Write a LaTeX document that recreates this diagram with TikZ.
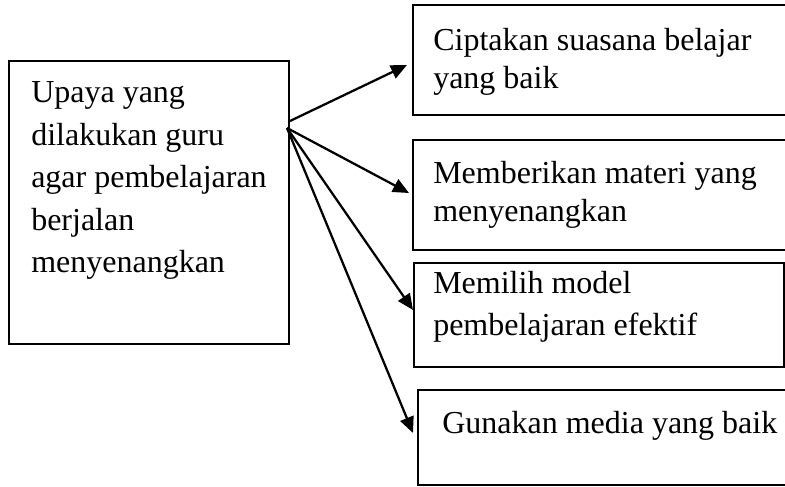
\documentclass[tikz,border=0pt]{standalone}
\usepackage{fontspec}
\setmainfont{Liberation Serif}
\usetikzlibrary{arrows.meta,fit}
\begin{document}
\begin{tikzpicture}[x=0.75pt,y=-0.75pt,
  boxstyle/.style={draw=black,line width=1.9pt,inner sep=0pt,fit={#1}},
  txt/.style={anchor=base west,inner sep=0pt,font=\fontsize{24pt}{28pt}\selectfont},
  arr/.style={line width=1.7pt,-{Triangle[length=12pt,width=10.5pt]}}]
\useasboundingbox (0,0) rectangle (785,486);
% boxes
\node[boxstyle={(9,61)(289,344)}] (L) {};
\node[boxstyle={(413,5)(800,115)}] (b1) {};
\node[boxstyle={(413,140)(800,250)}] (b2) {};
\node[boxstyle={(414,263)(784,367)},line width=1.5pt] (b3) {};
\node[boxstyle={(418,390)(800,485)}] (b4) {};
% texts
\node[txt] (l1) at (31,102) {Upaya yang};
\node[txt] (l2) at (31,145) {dilakukan guru};
\node[txt] (l3) at (31,187) {agar pembelajaran};
\node[txt] (l4) at (31,230) {berjalan};
\node[txt] (l5) at (31,272) {menyenangkan};
\node[txt] (t1a) at (433,50) {Ciptakan suasana belajar};
\node[txt] (t1b) at (433,88) {yang baik};
\node[txt] (t2a) at (433,183) {Memberikan materi yang};
\node[txt] (t2b) at (433,221) {menyenangkan};
\node[txt] (t3a) at (433,293) {Memilih model};
\node[txt] (t3b) at (433,335) {pembelajaran efektif};
\node[txt] (t4a) at (442,433) {Gunakan media yang baik};
% connector endpoints
\coordinate (s1) at (290,121);
\coordinate (s2) at (287,128);
\coordinate (e1) at (407,65);
\coordinate (e2) at (409,193);
\coordinate (e3) at (413,310);
\coordinate (e4) at (413,433);
\draw[arr] (s1) -- (e1);
\draw[arr] (s2) -- (e2);
\draw[arr] (s2) -- (e3);
\draw[arr] (s2) -- (e4);
\end{tikzpicture}
\end{document}
